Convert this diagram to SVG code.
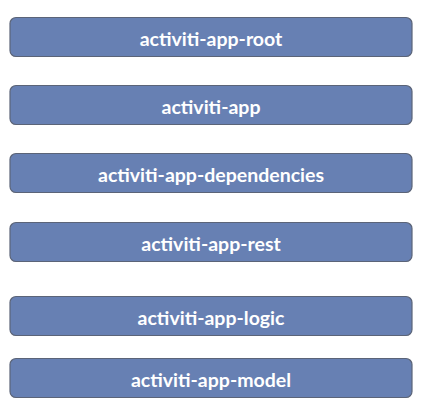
<svg xmlns="http://www.w3.org/2000/svg" width="435" height="412" viewBox="0 0 435 412">
<style>
.box{fill:#6780b3;stroke:#5b6478;stroke-width:1.2}
.lbl{font-family:Lato,"Open Sans","Liberation Sans",sans-serif;font-size:19.5px;font-weight:bold;fill:#ffffff;text-anchor:middle}
</style>
<rect width="435" height="412" fill="#ffffff"/>
<g id="connectors"></g>
<g id="root"><rect class="box" x="10" y="17.5" width="402" height="39" rx="6"/><text class="lbl" x="211" y="46">activiti-app-root</text></g>
<g id="app"><rect class="box" x="10" y="85.5" width="402" height="39" rx="6"/><text class="lbl" x="211" y="114">activiti-app</text></g>
<g id="dependencies"><rect class="box" x="10" y="153.5" width="402" height="39" rx="6"/><text class="lbl" x="211" y="182">activiti-app-dependencies</text></g>
<g id="rest"><rect class="box" x="10" y="222.5" width="402" height="39" rx="6"/><text class="lbl" x="211" y="251">activiti-app-rest</text></g>
<g id="logic"><rect class="box" x="10" y="296.5" width="402" height="39" rx="6"/><text class="lbl" x="211" y="325">activiti-app-logic</text></g>
<g id="model"><rect class="box" x="10" y="358.5" width="402" height="39" rx="6"/><text class="lbl" x="211" y="387">activiti-app-model</text></g>
</svg>
